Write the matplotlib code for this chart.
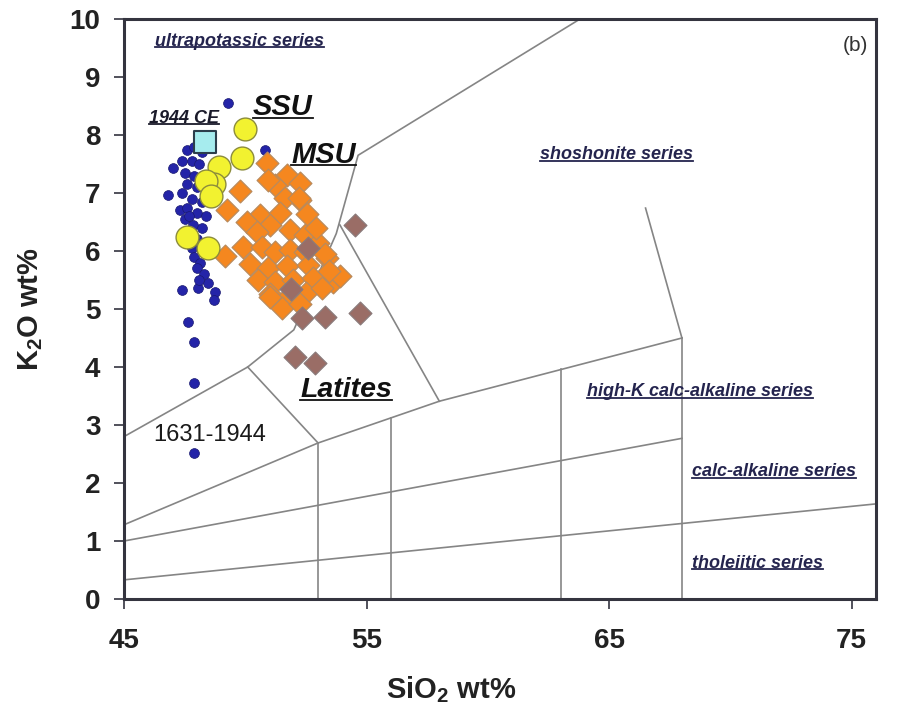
import numpy as np
import matplotlib.pyplot as plt
from matplotlib.lines import Line2D

plt.rcParams['font.family'] = ['Liberation Sans', 'DejaVu Sans']
plt.rcParams['mathtext.fontset'] = 'custom'
plt.rcParams['mathtext.rm'] = 'Liberation Sans:bold'
plt.rcParams['mathtext.default'] = 'rm'

# classification field boundaries (SiO2, K2O)
thol_x = [45, 76]
thol_y = [0.33, 1.64]
calc_x = [45, 68]
calc_y = [1.0, 2.77]
highk_x = [45, 53, 58, 68]
highk_y = [1.28, 2.69, 3.41, 4.5]
shosh_x = [68, 66.5]
shosh_y = [4.5, 6.74]
ultra_x = [45, 50.1, 52.0, 53.75, 54.65, 63.8]
ultra_y = [2.8, 4.0, 4.64, 6.3, 7.65, 10.0]
latite_l_x = [50.1, 53.0]
latite_l_y = [4.0, 2.69]
latite_r_x = [53.9, 58.0]
latite_r_y = [6.45, 3.41]
vert_x = [53, 56, 63, 68]
vert_top = [2.69, 3.12, 3.96, 4.5]

# 1631-1944 products
blue_x = [49.3, 50.8, 47.0, 46.8, 47.3, 47.4, 48.05, 48.45, 48.75, 48.7, 47.65, 47.9, 47.9, 47.9,
          47.6, 47.9, 48.2, 47.4, 47.8, 48.1, 47.5, 47.9, 48.3, 47.6, 48.0, 47.4, 47.8, 48.2,
          47.6, 48.0, 47.5, 47.85, 48.2, 47.6, 48.0, 47.8, 48.2, 47.9, 48.15, 48.0, 48.3, 48.1,
          47.7, 48.4]
blue_y = [8.55, 7.74, 7.43, 6.97, 6.71, 5.33, 5.36, 5.45, 5.29, 5.15, 4.78, 4.43, 3.72, 2.52,
          7.75, 7.8, 7.7, 7.55, 7.55, 7.5, 7.35, 7.3, 7.3, 7.15, 7.1, 7.0, 6.9, 6.85,
          6.75, 6.65, 6.55, 6.45, 6.4, 6.3, 6.2, 6.05, 6.0, 5.9, 5.8, 5.7, 5.6, 5.5,
          6.6, 6.6]

# MSU
msu_x = [50.9, 51.72, 52.26, 51.23, 49.78, 52.26, 51.64, 49.25, 50.61, 51.43, 52.55, 50.07,
         51.02, 51.85, 52.46, 50.48, 49.91, 50.69, 51.23, 51.85, 52.46, 53.0, 49.16, 50.2,
         50.94, 51.72, 52.59, 53.37, 50.53, 51.23, 51.97, 52.79, 53.62, 51.02, 51.72, 52.51,
         53.16, 51.52, 52.26, 53.91, 52.9, 53.3, 53.45, 51.0, 50.95, 52.2]
msu_y = [7.52, 7.31, 7.17, 7.14, 7.03, 6.88, 6.91, 6.71, 6.62, 6.66, 6.64, 6.5,
         6.45, 6.36, 6.28, 6.33, 6.07, 6.07, 5.98, 6.02, 5.98, 6.14, 5.91, 5.78,
         5.71, 5.74, 5.76, 5.88, 5.5, 5.47, 5.5, 5.53, 5.47, 5.26, 5.19, 5.28,
         5.36, 5.02, 5.09, 5.57, 6.4, 5.95, 5.65, 5.2, 7.23, 6.92]

# latites
lat_x = [54.53, 52.34, 53.29, 54.73, 52.05, 52.88, 52.6, 51.9]
lat_y = [6.45, 4.84, 4.86, 4.93, 4.17, 4.07, 6.05, 5.35]

# SSU
ssu_x = [50.0, 49.85, 48.9, 48.7, 48.4, 48.6, 47.6, 48.45]
ssu_y = [8.1, 7.6, 7.45, 7.15, 7.2, 6.95, 6.25, 6.05]

# 1944 CE
ce_x = [48.35]
ce_y = [7.88]

fig = plt.figure(figsize=(9.19, 7.18), dpi=100)
ax = fig.add_axes([124/919, 1-599/718, 752/919, 580/718])

lc = '#858585'
lw = 1.2
for xs, ys in [(thol_x, thol_y), (calc_x, calc_y), (highk_x, highk_y), (shosh_x, shosh_y),
               (ultra_x, ultra_y), (latite_l_x, latite_l_y), (latite_r_x, latite_r_y)]:
    ax.plot(xs, ys, color=lc, lw=lw, zorder=1)
for x, t in zip(vert_x, vert_top):
    ax.plot([x, x], [0, t], color=lc, lw=lw, zorder=1)

ax.scatter(blue_x, blue_y, s=50, color='#2424a8', edgecolor='#1a1a70', lw=0.5, zorder=3)
ax.scatter(msu_x, msu_y, s=135, marker='D', color='#f5871f', edgecolor='#b98a5c', lw=0.9, zorder=4)
ax.scatter(lat_x, lat_y, s=135, marker='D', color='#9a6d66', edgecolor='#8a7a7a', lw=0.9, zorder=5)
ax.scatter(ssu_x, ssu_y, s=270, color='#f2f230', edgecolor='#8c8c3c', lw=1.0, zorder=6)
ax.scatter(ce_x, ce_y, s=260, marker='s', color='#a6ecee', edgecolor='#2c3e4c', lw=1.5, zorder=7)

ax.set_xlim(45, 76)
ax.set_ylim(0, 10)
ax.set_xticks([45, 55, 65, 75])
ax.set_yticks(range(0, 11))
ax.tick_params(direction='out', length=7, width=1.2, color='#333340', labelsize=20, pad=10)
for lab in ax.get_xticklabels() + ax.get_yticklabels():
    lab.set_fontweight('bold')
    lab.set_color('#222222')
ax.tick_params(axis='x', pad=14)
for sp in ax.spines.values():
    sp.set_color('#34343f')
    sp.set_linewidth(2.2)

fig.text(451/919, 1-690/718, 'SiO$_2$ wt%', ha='center', va='center', fontsize=21,
         fontweight='bold', color='#222222')
fig.text(31/919, 1-309/718, 'K$_2$O wt%', ha='center', va='center', fontsize=21,
         fontweight='bold', color='#222222', rotation=90)

navy = '#24244e'
series = []
series.append(ax.text(46.28, 9.62, 'ultrapotassic series', fontsize=13, style='italic',
                      fontweight='bold', color=navy, va='center'))
series.append(ax.text(65.29, 7.66, 'shoshonite series', fontsize=13, style='italic',
                      fontweight='bold', color=navy, va='center', ha='center'))
series.append(ax.text(68.75, 3.57, 'high-K calc-alkaline series', fontsize=13, style='italic',
                      fontweight='bold', color=navy, va='center', ha='center'))
series.append(ax.text(68.42, 2.19, 'calc-alkaline series', fontsize=13, style='italic',
                      fontweight='bold', color=navy, va='center'))
series.append(ax.text(68.42, 0.62, 'tholeiitic series', fontsize=13, style='italic',
                      fontweight='bold', color=navy, va='center'))
series.append(ax.text(47.47, 8.29, '1944 CE', fontsize=13, style='italic', fontweight='bold',
                      color='#1a1a2a', va='center', ha='center', zorder=8))
series.append(ax.text(51.54, 8.48, 'SSU', fontsize=21, style='italic', fontweight='bold',
                      color='#111111', va='center', ha='center'))
series.append(ax.text(53.23, 7.66, 'MSU', fontsize=21, style='italic', fontweight='bold',
                      color='#111111', va='center', ha='center'))
series.append(ax.text(54.15, 3.6, 'Latites', fontsize=20.5, style='italic', fontweight='bold',
                      color='#111111', va='center', ha='center'))

ax.text(48.53, 2.83, '1631-1944', fontsize=17, color='#1a1a1a', va='center', ha='center')
ax.text(75.68, 9.55, '(b)', fontsize=15, color='#333333', va='center', ha='right')

# underline the field and group names
fig.canvas.draw()
inv = fig.transFigure.inverted()
for t in series:
    bb = t.get_window_extent()
    y = bb.y0 + 0.13 * bb.height
    (x0, y0), (x1, _) = inv.transform([(bb.x0, y), (bb.x1, y)])
    fig.add_artist(Line2D([x0, x1], [y0, y0], color=t.get_color(), lw=1.3, zorder=9))

fig.savefig('out.png', dpi=100)
